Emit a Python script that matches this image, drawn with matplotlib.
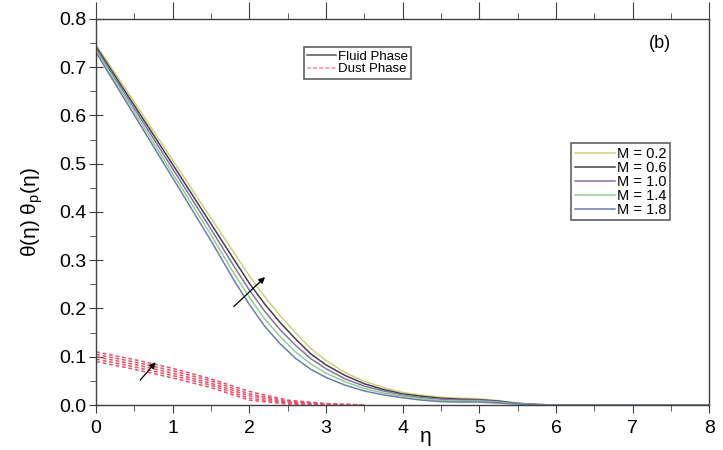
import matplotlib
matplotlib.use('Agg')
import matplotlib.pyplot as plt
from matplotlib.ticker import MultipleLocator
from matplotlib.lines import Line2D

plt.rcParams['font.family'] = ['Liberation Sans', 'DejaVu Sans']

# fluid phase temperature, one list per M
eta = [0, 0.5, 1.0, 1.5, 1.8, 2.0, 2.2, 2.4, 2.6, 2.8, 3.0, 3.25, 3.5, 3.75,
       4.0, 4.25, 4.5, 4.75, 5.0, 5.25, 5.5, 5.75, 6.0, 7.0, 8.0]
theta_m02 = [0.746, 0.627, 0.507, 0.387, 0.315, 0.267, 0.224, 0.185, 0.150, 0.117,
             0.092, 0.067, 0.049, 0.036, 0.026, 0.020, 0.016, 0.014, 0.013, 0.009,
             0.004, 0.001, 0.0, 0.0, 0.0]
theta_m06 = [0.742, 0.620, 0.498, 0.375, 0.301, 0.252, 0.209, 0.171, 0.137, 0.106,
             0.083, 0.061, 0.044, 0.032, 0.023, 0.018, 0.014, 0.012, 0.011, 0.008,
             0.0035, 0.001, 0.0, 0.0, 0.0]
theta_m10 = [0.738, 0.614, 0.489, 0.364, 0.287, 0.238, 0.194, 0.156, 0.124, 0.096,
             0.075, 0.054, 0.039, 0.029, 0.021, 0.015, 0.012, 0.010, 0.010, 0.007,
             0.003, 0.001, 0.0, 0.0, 0.0]
theta_m14 = [0.734, 0.607, 0.479, 0.352, 0.272, 0.223, 0.178, 0.142, 0.110, 0.085,
             0.066, 0.048, 0.034, 0.025, 0.018, 0.013, 0.009, 0.008, 0.008, 0.005,
             0.0025, 0.0005, 0.0, 0.0, 0.0]
theta_m18 = [0.730, 0.600, 0.470, 0.340, 0.258, 0.208, 0.163, 0.127, 0.097, 0.074,
             0.057, 0.041, 0.029, 0.021, 0.015, 0.010, 0.007, 0.006, 0.006, 0.004,
             0.002, 0.0005, 0.0, 0.0, 0.0]

# dust phase temperature
eta_d = [0, 0.5, 1.0, 1.5, 2.0, 2.5, 3.0, 3.5]
thetap_m02 = [0.110, 0.094, 0.076, 0.054, 0.028, 0.010, 0.003, 0.0]
thetap_m06 = [0.105, 0.089, 0.071, 0.050, 0.023, 0.008, 0.002, 0.0]
thetap_m10 = [0.100, 0.084, 0.066, 0.045, 0.019, 0.006, 0.0015, 0.0]
thetap_m14 = [0.095, 0.079, 0.061, 0.041, 0.014, 0.004, 0.001, 0.0]
thetap_m18 = [0.090, 0.074, 0.056, 0.036, 0.010, 0.002, 0.0, 0.0]

m_labels = ['M = 0.2', 'M = 0.6', 'M = 1.0', 'M = 1.4', 'M = 1.8']
fluid = [theta_m02, theta_m06, theta_m10, theta_m14, theta_m18]
dust = [thetap_m02, thetap_m06, thetap_m10, thetap_m14, thetap_m18]
colors = ['#cfcf7a', '#404048', '#8c6fa8', '#8fd08f', '#6b7fa8']

fig = plt.figure(figsize=(7.23, 4.5), dpi=100)
ax = fig.add_axes([0.133, 0.1, 0.848, 0.858])

for y, c in zip(fluid, colors):
    ax.plot(eta, y, color=c, lw=1.1)
for y in dust:
    ax.plot(eta_d, y, color='#ea5068', lw=1.1, ls=(0, (2.5, 1.8)))

# arrows showing the M trend
ax.annotate('', xy=(2.23, 0.269), xytext=(1.77, 0.200),
            arrowprops=dict(arrowstyle='-|>', color='black', lw=0.9, mutation_scale=9))
ax.annotate('', xy=(0.80, 0.093), xytext=(0.55, 0.047),
            arrowprops=dict(arrowstyle='-|>', color='black', lw=0.9, mutation_scale=9))

ax.set_xlim(0, 8)
ax.set_ylim(0, 0.8)
ax.xaxis.set_major_locator(MultipleLocator(1))
ax.xaxis.set_minor_locator(MultipleLocator(0.5))
ax.yaxis.set_major_locator(MultipleLocator(0.1))
ax.yaxis.set_minor_locator(MultipleLocator(0.05))
ax.yaxis.set_major_formatter(matplotlib.ticker.FormatStrFormatter('%.1f'))

for s in ax.spines.values():
    s.set_color('#404040')
    s.set_linewidth(1.0)

ax.tick_params(axis='both', which='both', colors='#404040', labelcolor='black', labelsize=14)
ax.tick_params(axis='x', which='major', direction='out', length=6, top=True, pad=5)
ax.tick_params(axis='x', which='minor', direction='out', length=4, top=True)
ax.tick_params(axis='y', which='major', direction='inout', length=10, pad=2)
ax.tick_params(axis='y', which='minor', direction='out', length=4)
# top ticks longer than bottom
for t in ax.xaxis.get_major_ticks():
    t.tick2line.set_markersize(12)

ax.text(4.3, -0.065, 'η', fontsize=15, ha='center', va='center')
ax.text(-0.105, 0.5, r'θ(η) θ$_\mathregular{p}$(η)', fontsize=15, rotation=90,
        ha='center', va='center', transform=ax.transAxes)
ax.text(7.36, 0.748, '(b)', fontsize=13, ha='center', va='center')

# phase legend
h1 = [Line2D([], [], color='#555555', lw=1.1),
      Line2D([], [], color='#f08a9a', lw=1.1, ls=(0, (2.5, 1.5)))]
leg1 = ax.legend(h1, ['Fluid Phase', 'Dust Phase'], loc='upper left',
                 bbox_to_anchor=(304 / 723, 1 - 47 / 450), bbox_transform=fig.transFigure,
                 borderaxespad=0, fontsize=9.5, handlelength=2.2, handletextpad=0.1,
                 labelspacing=0.05, borderpad=0.25, fancybox=False, framealpha=1,
                 edgecolor='#606060')
leg1.get_frame().set_linewidth(1.2)
ax.add_artist(leg1)

# M legend
h2 = [Line2D([], [], color=c, lw=1.1) for c in colors]
leg2 = ax.legend(h2, m_labels, loc='upper left',
                 bbox_to_anchor=(571 / 723, 1 - 143 / 450), bbox_transform=fig.transFigure,
                 borderaxespad=0, fontsize=10.5, handlelength=2.8, handletextpad=0.1,
                 labelspacing=0.0, borderpad=0.25, fancybox=False, framealpha=1,
                 edgecolor='#606060')
leg2.get_frame().set_linewidth(1.2)

fig.savefig('out.png', dpi=100)
